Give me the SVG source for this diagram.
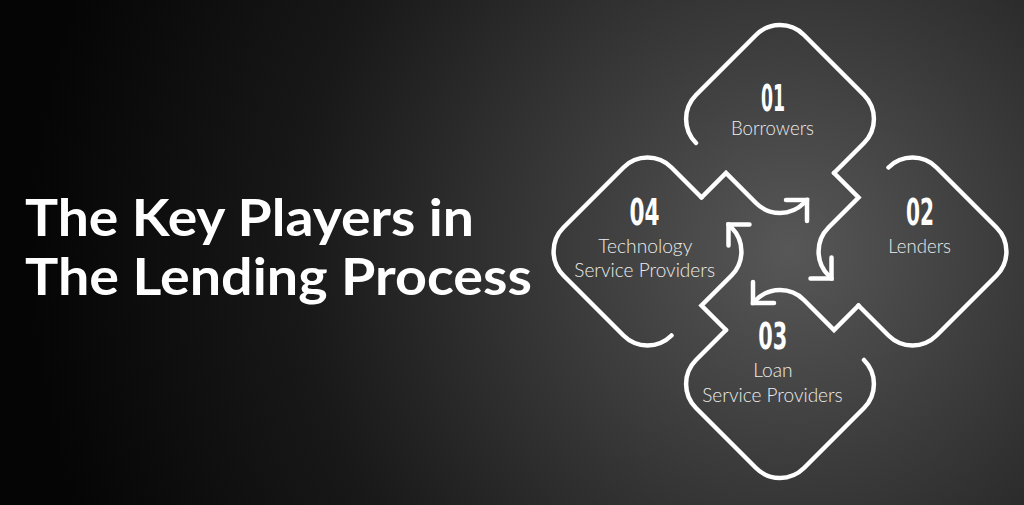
<svg xmlns="http://www.w3.org/2000/svg" xmlns:xlink="http://www.w3.org/1999/xlink" width="1024" height="505" viewBox="0 0 1024 505">
  <defs>
    <radialGradient id="bg" cx="790" cy="250" r="760" gradientUnits="userSpaceOnUse">
      <stop offset="0" stop-color="#575757"/>
      <stop offset="0.3" stop-color="#3a3a3a"/>
      <stop offset="0.65" stop-color="#181818"/>
      <stop offset="1" stop-color="#050505"/>
    </radialGradient>
    <path id="outline" d="M696 143 A34 34 0 0 1 696 95 L756 35 A34 34 0 0 1 804 35 L864 95 A34 34 0 0 1 864 143 L834 173"/>
    <path id="link" d="M834 173 L858.5 197.5 L828.5 227.5 A34 34 0 0 0 828.5 275.5 L831.5 278.5"/>
    <path id="head" d="M831.5 257.5 L831.5 278.5 L810.5 278.5"/>
  </defs>
  <style>
    .ln { fill: none; stroke: #ffffff; stroke-width: 4.5; stroke-linecap: round; stroke-linejoin: miter; }
    .num { font-family: "DejaVu Sans Condensed", "DejaVu Sans", sans-serif; font-weight: bold; font-size: 38px; fill: #ffffff; }
    .lbl { font-family: Lato, "Open Sans", sans-serif; font-weight: 300; font-size: 19px; fill: #ececec; }
    .title { font-family: Lato, "Open Sans", sans-serif; font-weight: bold; font-size: 51px; fill: #ffffff; }
  </style>
  <rect x="0" y="0" width="1024" height="505" fill="url(#bg)"/>

  <g id="title">
    <text class="title" x="25" y="236" textLength="449" lengthAdjust="spacingAndGlyphs">The Key Players in</text>
    <text class="title" x="25" y="295" textLength="507" lengthAdjust="spacingAndGlyphs">The Lending Process</text>
  </g>

  <g id="node-01">
    <use xlink:href="#outline" href="#outline" class="ln"/>
    <text class="num" x="761" y="110.5" textLength="24" lengthAdjust="spacingAndGlyphs">01</text>
    <text class="lbl" x="731" y="134.5" textLength="83" lengthAdjust="spacingAndGlyphs">Borrowers</text>
  </g>

  <g id="node-02">
    <use xlink:href="#outline" href="#outline" class="ln" transform="rotate(90 780 251.5)"/>
    <text class="num" x="906" y="225" textLength="28" lengthAdjust="spacingAndGlyphs">02</text>
    <text class="lbl" x="888.3" y="253.3" textLength="62.7" lengthAdjust="spacingAndGlyphs">Lenders</text>
  </g>

  <g id="node-03">
    <use xlink:href="#outline" href="#outline" class="ln" transform="rotate(180 780 251.5)"/>
    <text class="num" x="758.3" y="349" textLength="29" lengthAdjust="spacingAndGlyphs">03</text>
    <text class="lbl" x="753.3" y="377.3" textLength="39.4" lengthAdjust="spacingAndGlyphs">Loan</text>
    <text class="lbl" x="702.3" y="401.7" textLength="140.4" lengthAdjust="spacingAndGlyphs">Service Providers</text>
  </g>

  <g id="node-04">
    <use xlink:href="#outline" href="#outline" class="ln" transform="rotate(270 780 251.5)"/>
    <text class="num" x="629.5" y="225" textLength="30" lengthAdjust="spacingAndGlyphs">04</text>
    <text class="lbl" x="598.3" y="253.3" textLength="94" lengthAdjust="spacingAndGlyphs">Technology</text>
    <text class="lbl" x="574.3" y="276.7" textLength="140.7" lengthAdjust="spacingAndGlyphs">Service Providers</text>
  </g>

  <g id="connectors">
    <g id="link-01-02">
      <use xlink:href="#link" href="#link" class="ln"/>
      <use xlink:href="#head" href="#head" class="ln"/>
    </g>
    <g id="link-02-03" transform="rotate(90 780 251.5)">
      <use xlink:href="#link" href="#link" class="ln"/>
      <use xlink:href="#head" href="#head" class="ln"/>
    </g>
    <g id="link-03-04" transform="rotate(180 780 251.5)">
      <use xlink:href="#link" href="#link" class="ln"/>
      <use xlink:href="#head" href="#head" class="ln"/>
    </g>
    <g id="link-04-01" transform="rotate(270 780 251.5)">
      <use xlink:href="#link" href="#link" class="ln"/>
      <use xlink:href="#head" href="#head" class="ln"/>
    </g>
  </g>
</svg>
